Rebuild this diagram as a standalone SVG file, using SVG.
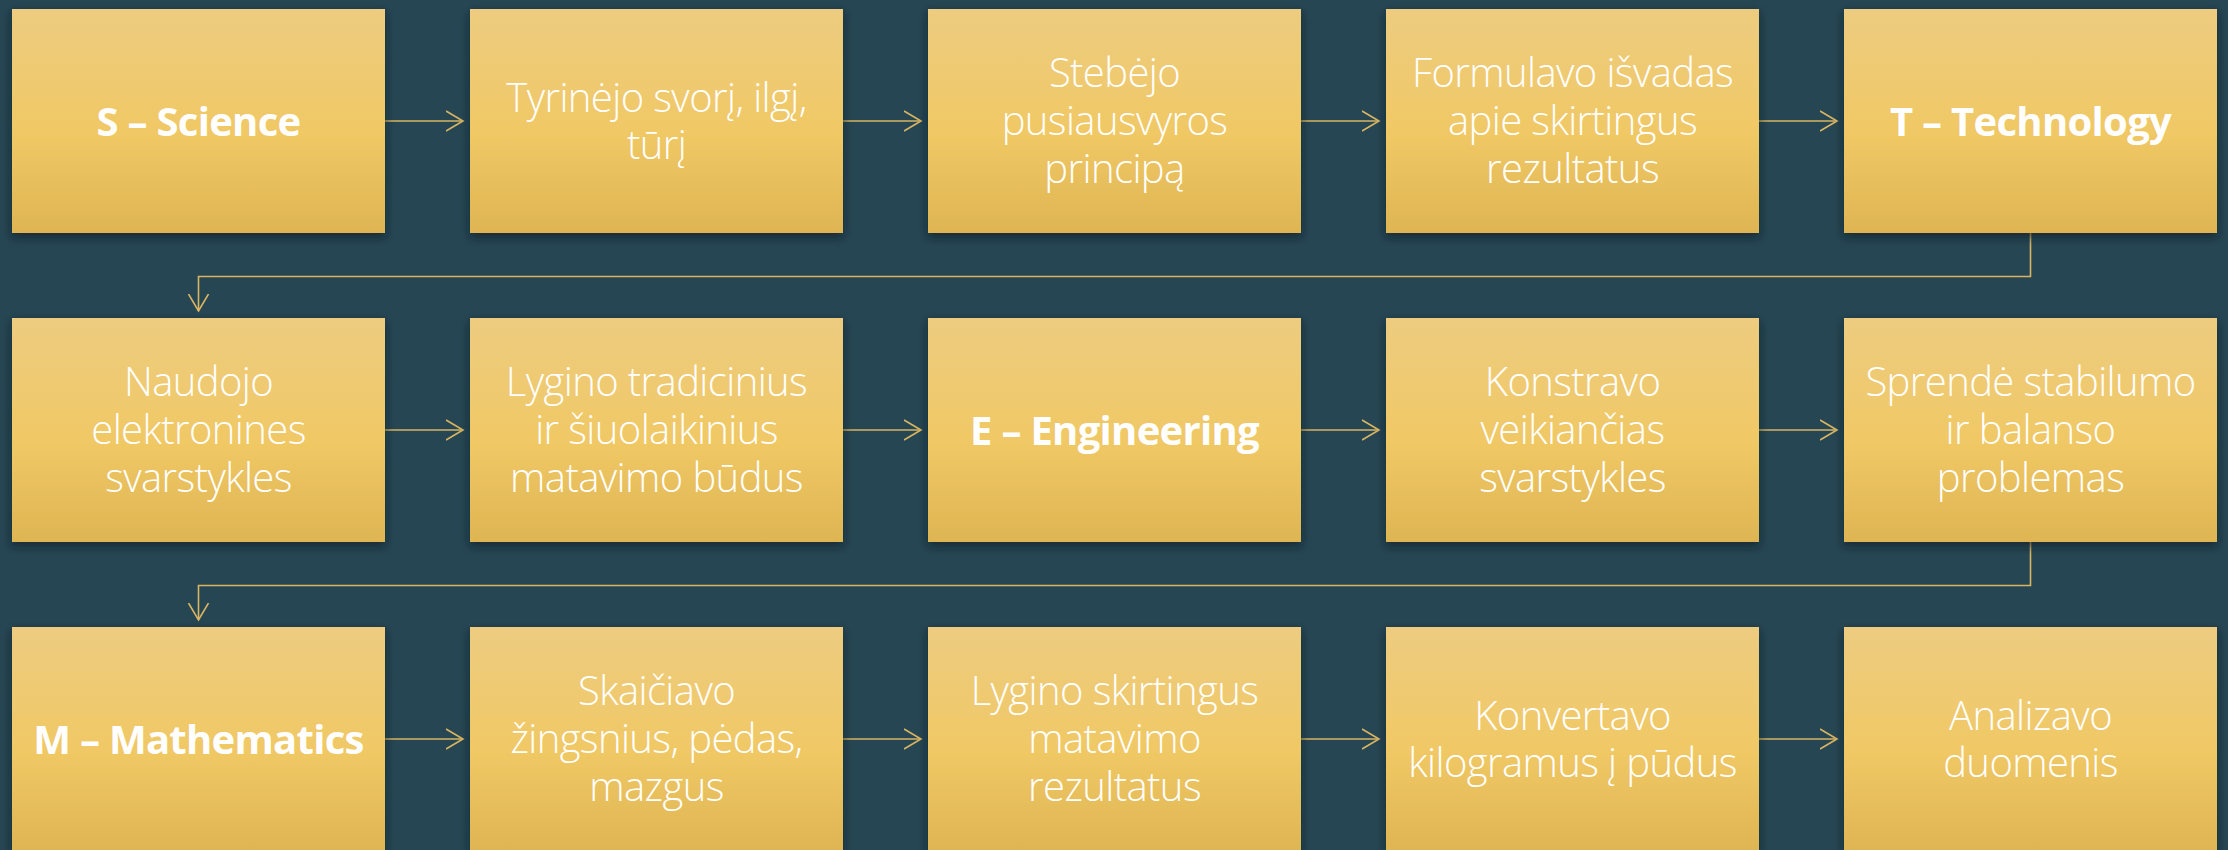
<svg xmlns="http://www.w3.org/2000/svg" width="2228" height="850" viewBox="0 0 2228 850">
<defs>
<linearGradient id="g" x1="0" y1="0" x2="0" y2="1">
<stop offset="0" stop-color="#EDCC80"/>
<stop offset="0.55" stop-color="#F0C865"/>
<stop offset="1" stop-color="#DEB552"/>
</linearGradient>
<filter id="sh" x="-10%" y="-10%" width="125%" height="130%">
<feDropShadow dx="0" dy="4" stdDeviation="5" flood-color="#0a1a22" flood-opacity="0.7"/>
</filter>
<marker id="ah" markerUnits="userSpaceOnUse" markerWidth="20" markerHeight="24" refX="17" refY="11" orient="auto">
<path d="M0,1 L17,11 L0,21" fill="none" stroke="#D9B562" stroke-width="1.6"/>
</marker>
<style>
.box{fill:url(#g);filter:url(#sh)}
.t{font-family:"Open Sans","Noto Sans",sans-serif;font-weight:300;font-size:40px;letter-spacing:-0.6px;fill:#FFFFFF;text-anchor:middle}
.b{font-family:"Open Sans","Noto Sans",sans-serif;font-weight:700;font-size:40px;letter-spacing:-0.7px;fill:#FFFFFF;text-anchor:middle}
.c{fill:none;stroke:#D9B562;stroke-width:1.6;marker-end:url(#ah)}
</style>
</defs>
<rect x="0" y="0" width="2228" height="850" fill="#264653"/>
<g id="connectors">
<path class="c" d="M385,121 H463"/>
<path class="c" d="M843,121 H921"/>
<path class="c" d="M1301,121 H1379"/>
<path class="c" d="M1759,121 H1837"/>
<path class="c" d="M2030.5,233 V276.5 H198.5 V311"/>
<path class="c" d="M385,430 H463"/>
<path class="c" d="M843,430 H921"/>
<path class="c" d="M1301,430 H1379"/>
<path class="c" d="M1759,430 H1837"/>
<path class="c" d="M2030.5,542 V585.5 H198.5 V620"/>
<path class="c" d="M385,739 H463"/>
<path class="c" d="M843,739 H921"/>
<path class="c" d="M1301,739 H1379"/>
<path class="c" d="M1759,739 H1837"/>
</g>
<g id="n1"><rect class="box" x="12" y="9" width="373" height="224"/><text class="b" x="198.5" y="136">S – Science</text></g>
<g id="n2"><rect class="box" x="470" y="9" width="373" height="224"/><text class="t" x="656.5" y="112">Tyrinėjo svorį, ilgį,<tspan x="656.5" dy="47">tūrį</tspan></text></g>
<g id="n3"><rect class="box" x="928" y="9" width="373" height="224"/><text class="t" x="1114.5" y="87">Stebėjo<tspan x="1114.5" dy="48">pusiausvyros</tspan><tspan x="1114.5" dy="48">principą</tspan></text></g>
<g id="n4"><rect class="box" x="1386" y="9" width="373" height="224"/><text class="t" x="1572.5" y="87">Formulavo išvadas<tspan x="1572.5" dy="48">apie skirtingus</tspan><tspan x="1572.5" dy="48">rezultatus</tspan></text></g>
<g id="n5"><rect class="box" x="1844" y="9" width="373" height="224"/><text class="b" x="2030.5" y="136">T – Technology</text></g>
<g id="n6"><rect class="box" x="12" y="318" width="373" height="224"/><text class="t" x="198.5" y="396">Naudojo<tspan x="198.5" dy="48">elektronines</tspan><tspan x="198.5" dy="48">svarstykles</tspan></text></g>
<g id="n7"><rect class="box" x="470" y="318" width="373" height="224"/><text class="t" x="656.5" y="396">Lygino tradicinius<tspan x="656.5" dy="48">ir šiuolaikinius</tspan><tspan x="656.5" dy="48">matavimo būdus</tspan></text></g>
<g id="n8"><rect class="box" x="928" y="318" width="373" height="224"/><text class="b" x="1114.5" y="445">E – Engineering</text></g>
<g id="n9"><rect class="box" x="1386" y="318" width="373" height="224"/><text class="t" x="1572.5" y="396">Konstravo<tspan x="1572.5" dy="48">veikiančias</tspan><tspan x="1572.5" dy="48">svarstykles</tspan></text></g>
<g id="n10"><rect class="box" x="1844" y="318" width="373" height="224"/><text class="t" x="2030.5" y="396">Sprendė stabilumo<tspan x="2030.5" dy="48">ir balanso</tspan><tspan x="2030.5" dy="48">problemas</tspan></text></g>
<g id="n11"><rect class="box" x="12" y="627" width="373" height="224"/><text class="b" x="198.5" y="754">M – Mathematics</text></g>
<g id="n12"><rect class="box" x="470" y="627" width="373" height="224"/><text class="t" x="656.5" y="705">Skaičiavo<tspan x="656.5" dy="48">žingsnius, pėdas,</tspan><tspan x="656.5" dy="48">mazgus</tspan></text></g>
<g id="n13"><rect class="box" x="928" y="627" width="373" height="224"/><text class="t" x="1114.5" y="705">Lygino skirtingus<tspan x="1114.5" dy="48">matavimo</tspan><tspan x="1114.5" dy="48">rezultatus</tspan></text></g>
<g id="n14"><rect class="box" x="1386" y="627" width="373" height="224"/><text class="t" x="1572.5" y="730">Konvertavo<tspan x="1572.5" dy="47">kilogramus į pūdus</tspan></text></g>
<g id="n15"><rect class="box" x="1844" y="627" width="373" height="224"/><text class="t" x="2030.5" y="730">Analizavo<tspan x="2030.5" dy="47">duomenis</tspan></text></g>
</svg>
